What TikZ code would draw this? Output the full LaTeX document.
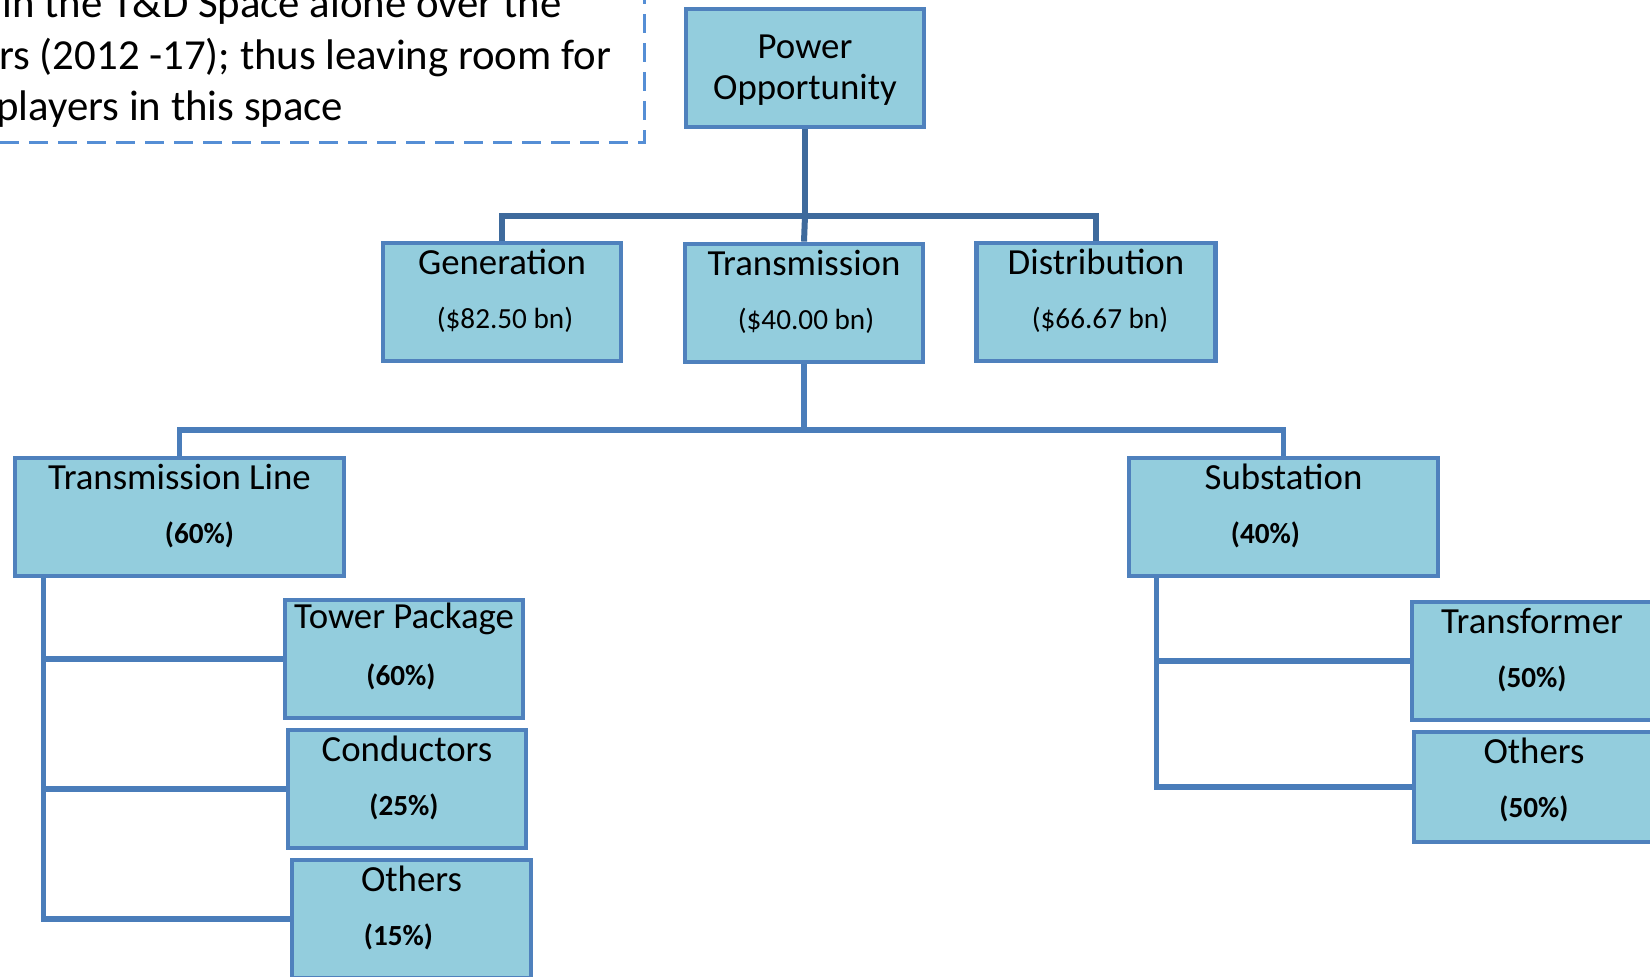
\documentclass[tikz,border=0pt]{standalone}
\usepackage{fontspec}
\setmainfont{Carlito}
\usepackage{tikz}
\usetikzlibrary{positioning}
\definecolor{boxFill}{HTML}{93CDDD}
\definecolor{boxBorder}{HTML}{4F81BD}
\definecolor{topLinkColor}{HTML}{3E6A9C}
\definecolor{linkColor}{HTML}{4A7DBA}
\definecolor{noteColor}{HTML}{558ED5}
\tikzstyle{chart} = [x = 0.5pt, y = -0.5pt]
\tikzstyle{segBox} = [draw=boxBorder, fill=boxFill, line width=2.4pt, inner sep=0pt]
\tikzstyle{segTitle} = [font=\fontsize{18.4}{20.5}\selectfont, inner sep=0pt, align=center]
\tikzstyle{segValue} = [font=\fontsize{14.6}{17}\selectfont, inner sep=0pt]
\tikzstyle{topLink} = [draw=topLinkColor, line width=3pt]
\tikzstyle{link} = [draw=linkColor, line width=2.6pt]
\tikzstyle{noteBox} = [draw=noteColor, line width=1.5pt, dash pattern=on 9.5pt off 5pt]
\tikzstyle{noteText} = [font=\fontsize{21.4}{26}\selectfont, inner sep=0pt, anchor=base west]
\newcommand{\segment}[8]{
  \node [segBox, minimum width=#4*0.5pt, minimum height=#5*0.5pt] (#1) at (#2,#3) {};
  \node [segTitle] (#1Title) at ([yshift=-10.5pt]#1.north) {#6};
  \node [segValue] (#1Value) at ([xshift=#8*0.5pt, yshift=-39.5pt]#1.north) {#7};
}
\begin{document}
\begin{tikzpicture}[chart]
  \useasboundingbox (0,0) rectangle (1650,977);
  \clip (0,0) rectangle (1650,977);

  % note box, cut by the page
  \draw [noteBox] (-30,-30) rectangle (644,143);
  \node [noteText] (noteA) at (2,18) {in the T\&D Space alone over the};
  \node [noteText] (noteB) at (-1,70) {rs (2012 -17); thus leaving room for};
  \node [noteText] (noteC) at (-4,121) {players in this space};

  % top level
  \node [segBox, minimum width=119pt, minimum height=59pt] (power) at (805,68) {};
  \node [segTitle] (powerTitle) at (805,70) {Power\\Opportunity};

  \segment{gen}{502}{302}{238}{118}{Generation}{(\$82.50 bn)}{3}
  \segment{trans}{804}{303}{238}{118}{Transmission}{(\$40.00 bn)}{2}
  \segment{dist}{1096}{302}{239}{118}{Distribution}{(\$66.67 bn)}{4}

  \segment{tline}{179.5}{517}{329}{118}{Transmission Line}{\textbf{(60\%)}}{20}
  \segment{subst}{1283.5}{517}{309}{118}{Substation}{\textbf{(40\%)}}{-18}

  \segment{tower}{404}{659}{238}{118}{Tower Package}{\textbf{(60\%)}}{-3}
  \segment{cond}{407}{789}{238}{118}{Conductors}{\textbf{(25\%)}}{-3}
  \segment{othL}{411.5}{919}{239}{118}{Others}{\textbf{(15\%)}}{-13}

  \segment{xfmr}{1532}{661}{240}{118}{Transformer}{\textbf{(50\%)}}{0}
  \segment{othR}{1534}{787}{240}{110}{Others}{\textbf{(50\%)}}{0}

  % connectors
  \coordinate (topBar) at (805,216);
  \draw [topLink] (power.south) -- (topBar);
  \draw [topLink] (gen.north) |- (topBar) -| (dist.north);
  \draw [topLink] (topBar) -- (trans.north);

  \coordinate (midBar) at (804,430);
  \draw [link] (trans.south) -- (midBar);
  \draw [link] (tline.north) |- (midBar) -| (subst.north);

  \coordinate (leftSpine) at ([xshift=15.5pt]tline.south west);
  \draw [link] (leftSpine) |- (tower.west);
  \draw [link] (leftSpine) |- (cond.west);
  \draw [link] (leftSpine) |- (othL.west);

  \coordinate (rightSpine) at ([xshift=15pt]subst.south west);
  \draw [link] (rightSpine) |- (xfmr.west);
  \draw [link] (rightSpine) |- (othR.west);
\end{tikzpicture}
\end{document}
